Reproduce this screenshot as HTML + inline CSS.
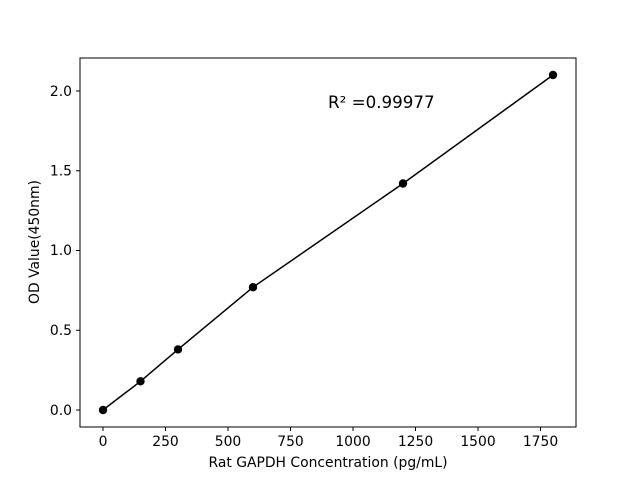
<!DOCTYPE html>
<html><head><style>body{margin:0;background:#fff}</style></head><body>
<svg width="640" height="480" xmlns="http://www.w3.org/2000/svg" font-family="DejaVu Sans, sans-serif">
<rect width="640" height="480" fill="#fff"/>
<rect x="80" y="58" width="496" height="369" fill="none" stroke="#000" stroke-width="1"/>
<g stroke="#000" stroke-width="1">
<line x1="103" y1="427" x2="103" y2="431"/><line x1="165.5" y1="427" x2="165.5" y2="431"/>
<line x1="228" y1="427" x2="228" y2="431"/><line x1="290.5" y1="427" x2="290.5" y2="431"/>
<line x1="353" y1="427" x2="353" y2="431"/><line x1="415.5" y1="427" x2="415.5" y2="431"/>
<line x1="478" y1="427" x2="478" y2="431"/><line x1="540.5" y1="427" x2="540.5" y2="431"/>
<line x1="76" y1="410" x2="80" y2="410"/><line x1="76" y1="330.25" x2="80" y2="330.25"/>
<line x1="76" y1="250.5" x2="80" y2="250.5"/><line x1="76" y1="170.75" x2="80" y2="170.75"/>
<line x1="76" y1="91" x2="80" y2="91"/>
</g>
<g font-size="13.9" text-anchor="middle">
<text x="103" y="446">0</text><text x="165.5" y="446">250</text><text x="228" y="446">500</text>
<text x="290.5" y="446">750</text><text x="353" y="446">1000</text><text x="415.5" y="446">1250</text>
<text x="478" y="446">1500</text><text x="540.5" y="446">1750</text>
</g>
<g font-size="13.9" text-anchor="end">
<text x="72" y="415">0.0</text><text x="72" y="335">0.5</text><text x="72" y="255">1.0</text>
<text x="72" y="175.5">1.5</text><text x="72" y="96">2.0</text>
</g>
<text x="328" y="467" font-size="13.9" text-anchor="middle">Rat GAPDH Concentration (pg/mL)</text>
<text transform="translate(39,242) rotate(-90)" font-size="13.9" text-anchor="middle">OD Value(450nm)</text>
<text x="328" y="108" font-size="16.7">R² =0.99977</text>
<polyline fill="none" stroke="#000" stroke-width="1.5" points="103,410 140.5,381.3 178,349.4 253,287.2 403,183.5 553,75"/>
<g fill="#000">
<circle cx="103" cy="410" r="4.2"/><circle cx="140.5" cy="381.3" r="4.2"/><circle cx="178" cy="349.4" r="4.2"/>
<circle cx="253" cy="287.2" r="4.2"/><circle cx="403" cy="183.5" r="4.2"/><circle cx="553" cy="75" r="4.2"/>
</g>
</svg>
</body></html>
